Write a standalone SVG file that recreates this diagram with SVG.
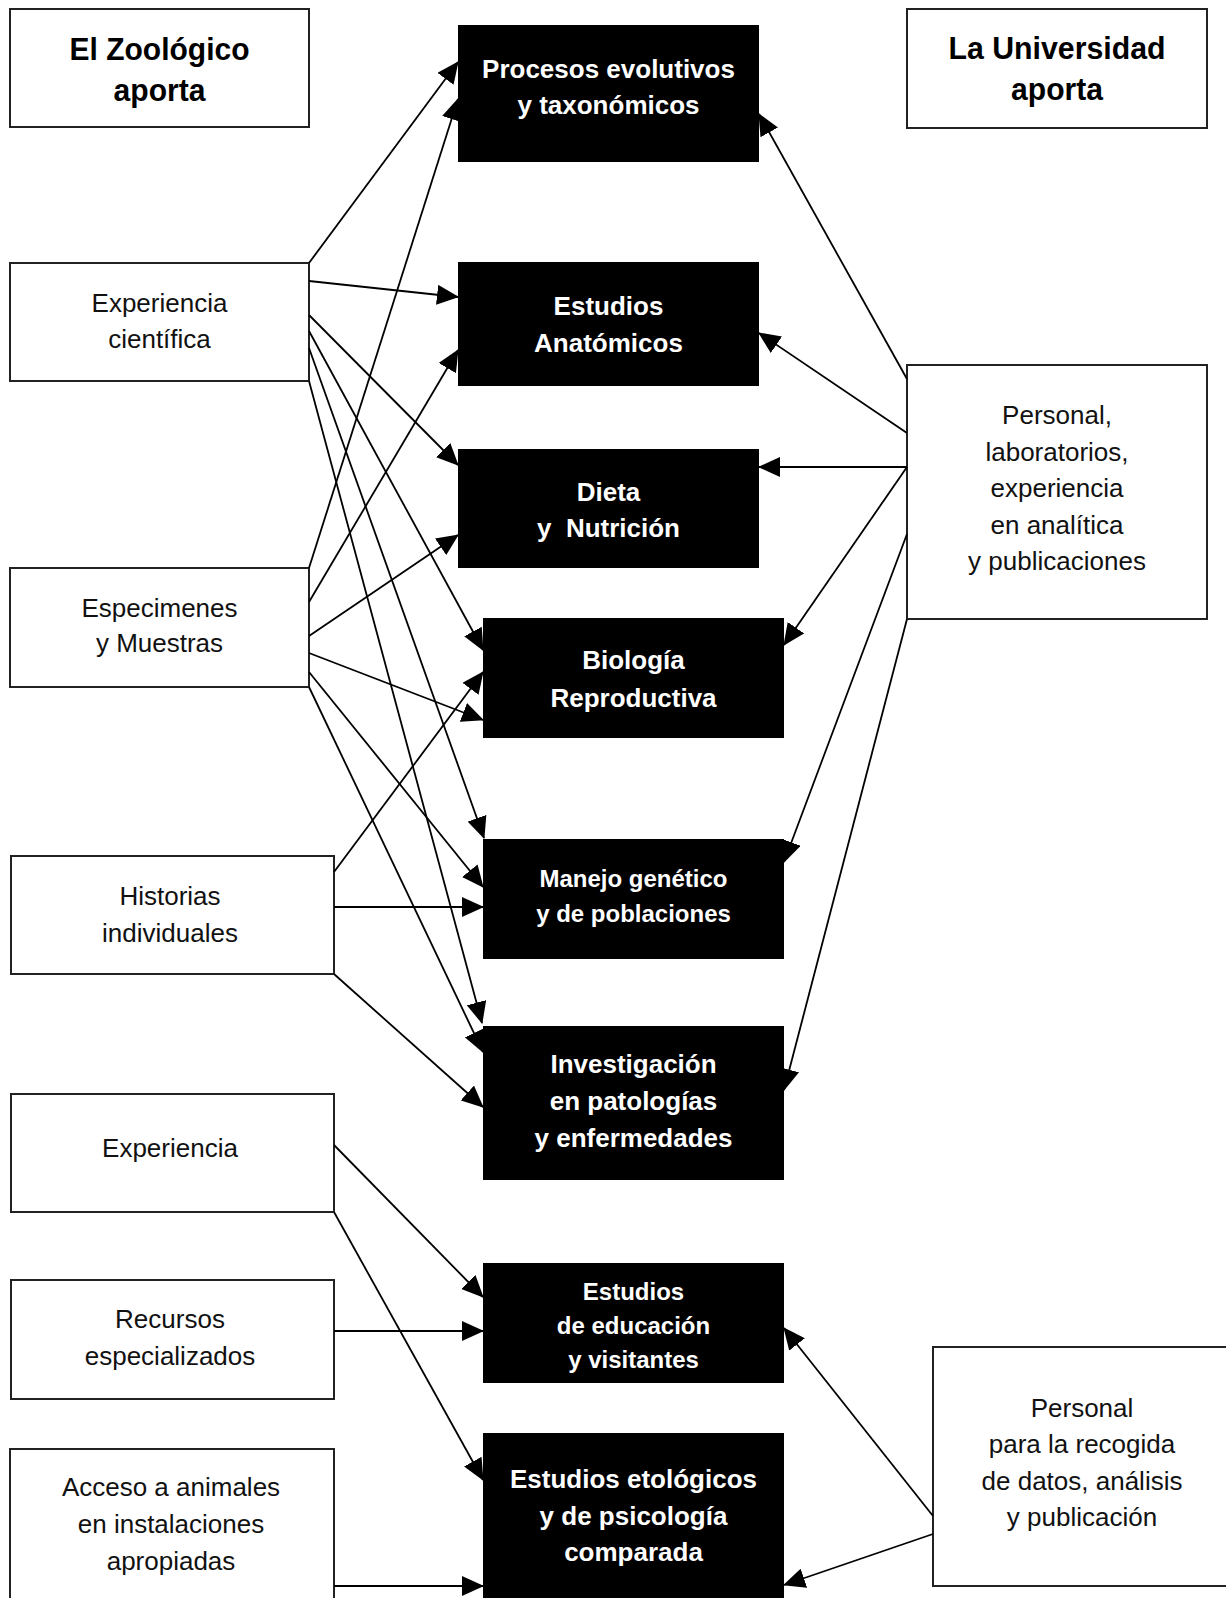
<svg xmlns="http://www.w3.org/2000/svg" width="1226" height="1598" viewBox="0 0 1226 1598">
  <style>
    text { font-family: "Liberation Sans", Arial, sans-serif; text-anchor: middle; }
    .wbox { fill: #ffffff; stroke: #222222; stroke-width: 2; }
    .bbox { fill: #000000; stroke: none; }
    .hdr { font-size: 32px; font-weight: bold; fill: #000; }
    .lbl { font-size: 26px; fill: #111; }
    .ctr { font-size: 26px; font-weight: bold; fill: #fff; }
    .ctrs { font-size: 24px; font-weight: bold; fill: #fff; }
    .conn line { stroke: #000; stroke-width: 1.8; fill: none; marker-end: url(#arr); }
  </style>
  <defs>
    <marker id="arr" markerUnits="userSpaceOnUse" markerWidth="22" markerHeight="20" refX="21" refY="10" orient="auto">
      <path d="M0,0 L22,10 L0,20 z" fill="#000"/>
    </marker>
  </defs>
  <rect width="1226" height="1598" fill="#ffffff"/>

  <!-- Left column -->
  <g id="n-zoo">
    <rect class="wbox" x="10" y="9" width="299" height="118"/>
    <text class="hdr" x="159.5" y="60" textLength="180" lengthAdjust="spacingAndGlyphs">El Zoológico</text>
    <text class="hdr" x="159.5" y="101" textLength="92" lengthAdjust="spacingAndGlyphs">aporta</text>
  </g>
  <g id="n-expcient">
    <rect class="wbox" x="10" y="263" width="299" height="118"/>
    <text class="lbl" x="159.5" y="312">Experiencia</text>
    <text class="lbl" x="159.5" y="348">científica</text>
  </g>
  <g id="n-especimenes">
    <rect class="wbox" x="10" y="568" width="299" height="119"/>
    <text class="lbl" x="159.5" y="617">Especimenes</text>
    <text class="lbl" x="159.5" y="652">y Muestras</text>
  </g>
  <g id="n-historias">
    <rect class="wbox" x="11" y="856" width="323" height="118"/>
    <text class="lbl" x="170" y="905">Historias</text>
    <text class="lbl" x="170" y="942">individuales</text>
  </g>
  <g id="n-experiencia">
    <rect class="wbox" x="11" y="1094" width="323" height="118"/>
    <text class="lbl" x="170" y="1157">Experiencia</text>
  </g>
  <g id="n-recursos">
    <rect class="wbox" x="11" y="1280" width="323" height="119"/>
    <text class="lbl" x="170" y="1328">Recursos</text>
    <text class="lbl" x="170" y="1365">especializados</text>
  </g>
  <g id="n-acceso">
    <rect class="wbox" x="10" y="1449" width="324" height="170"/>
    <text class="lbl" x="171" y="1496">Acceso a animales</text>
    <text class="lbl" x="171" y="1533">en instalaciones</text>
    <text class="lbl" x="171" y="1570">apropiadas</text>
  </g>

  <!-- Center column -->
  <g id="n-procesos">
    <rect class="bbox" x="458" y="25" width="301" height="137"/>
    <text class="ctr" x="608.5" y="78">Procesos evolutivos</text>
    <text class="ctr" x="608.5" y="114">y taxonómicos</text>
  </g>
  <g id="n-anatomicos">
    <rect class="bbox" x="458" y="262" width="301" height="124"/>
    <text class="ctr" x="608.5" y="315">Estudios</text>
    <text class="ctr" x="608.5" y="352">Anatómicos</text>
  </g>
  <g id="n-dieta">
    <rect class="bbox" x="458" y="449" width="301" height="119"/>
    <text class="ctr" x="608.5" y="501">Dieta</text>
    <text class="ctr" x="608.5" y="537" xml:space="preserve">y  Nutrición</text>
  </g>
  <g id="n-biologia">
    <rect class="bbox" x="483" y="618" width="301" height="120"/>
    <text class="ctr" x="633.5" y="669">Biología</text>
    <text class="ctr" x="633.5" y="707">Reproductiva</text>
  </g>
  <g id="n-manejo">
    <rect class="bbox" x="483" y="839" width="301" height="120"/>
    <text class="ctrs" x="633.5" y="887">Manejo genético</text>
    <text class="ctrs" x="633.5" y="922">y de poblaciones</text>
  </g>
  <g id="n-investigacion">
    <rect class="bbox" x="483" y="1026" width="301" height="154"/>
    <text class="ctr" x="633.5" y="1073">Investigación</text>
    <text class="ctr" x="633.5" y="1110">en patologías</text>
    <text class="ctr" x="633.5" y="1147">y enfermedades</text>
  </g>
  <g id="n-educacion">
    <rect class="bbox" x="483" y="1263" width="301" height="120"/>
    <text class="ctrs" x="633.5" y="1300">Estudios</text>
    <text class="ctrs" x="633.5" y="1334">de educación</text>
    <text class="ctrs" x="633.5" y="1368">y visitantes</text>
  </g>
  <g id="n-etologicos">
    <rect class="bbox" x="483" y="1433" width="301" height="180"/>
    <text class="ctr" x="633.5" y="1488">Estudios etológicos</text>
    <text class="ctr" x="633.5" y="1525">y de psicología</text>
    <text class="ctr" x="633.5" y="1561">comparada</text>
  </g>

  <!-- Right column -->
  <g id="n-uni">
    <rect class="wbox" x="907" y="9" width="300" height="119"/>
    <text class="hdr" x="1057" y="59" textLength="217" lengthAdjust="spacingAndGlyphs">La Universidad</text>
    <text class="hdr" x="1057" y="100" textLength="92" lengthAdjust="spacingAndGlyphs">aporta</text>
  </g>
  <g id="n-personal">
    <rect class="wbox" x="907" y="365" width="300" height="254"/>
    <text class="lbl" x="1057" y="424">Personal,</text>
    <text class="lbl" x="1057" y="461">laboratorios,</text>
    <text class="lbl" x="1057" y="497">experiencia</text>
    <text class="lbl" x="1057" y="534">en analítica</text>
    <text class="lbl" x="1057" y="570">y publicaciones</text>
  </g>
  <g id="n-personal2">
    <rect class="wbox" x="933" y="1347" width="310" height="239"/>
    <text class="lbl" x="1082" y="1417">Personal</text>
    <text class="lbl" x="1082" y="1453">para la recogida</text>
    <text class="lbl" x="1082" y="1490">de datos, análisis</text>
    <text class="lbl" x="1082" y="1526">y publicación</text>
  </g>

  <!-- Connectors -->
  <g id="connectors" class="conn">
    <line x1="309" y1="263" x2="458" y2="62"/>
    <line x1="309" y1="281" x2="458" y2="297"/>
    <line x1="309" y1="315" x2="458" y2="465"/>
    <line x1="309" y1="331" x2="483" y2="650"/>
    <line x1="309" y1="348" x2="484" y2="838"/>
    <line x1="309" y1="381" x2="482" y2="1023"/>

    <line x1="309" y1="568" x2="458" y2="99"/>
    <line x1="309" y1="602" x2="458" y2="350"/>
    <line x1="309" y1="636" x2="458" y2="535"/>
    <line x1="309" y1="653" x2="483" y2="720"/>
    <line x1="309" y1="672" x2="483" y2="887"/>
    <line x1="309" y1="687" x2="483" y2="1052"/>

    <line x1="334" y1="872" x2="483" y2="672"/>
    <line x1="334" y1="907" x2="483" y2="907"/>
    <line x1="334" y1="974" x2="483" y2="1107"/>

    <line x1="334" y1="1145" x2="483" y2="1297"/>
    <line x1="334" y1="1212" x2="483" y2="1480"/>
    <line x1="334" y1="1331" x2="483" y2="1331"/>
    <line x1="334" y1="1586" x2="483" y2="1586"/>

    <line x1="907" y1="379" x2="759" y2="114"/>
    <line x1="907" y1="433" x2="759" y2="333"/>
    <line x1="907" y1="467" x2="759" y2="467"/>
    <line x1="907" y1="467" x2="784" y2="645"/>
    <line x1="907" y1="534" x2="784" y2="862"/>
    <line x1="907" y1="619" x2="784" y2="1090"/>

    <line x1="933" y1="1516" x2="784" y2="1328"/>
    <line x1="933" y1="1534" x2="784" y2="1585"/>
  </g>
</svg>
